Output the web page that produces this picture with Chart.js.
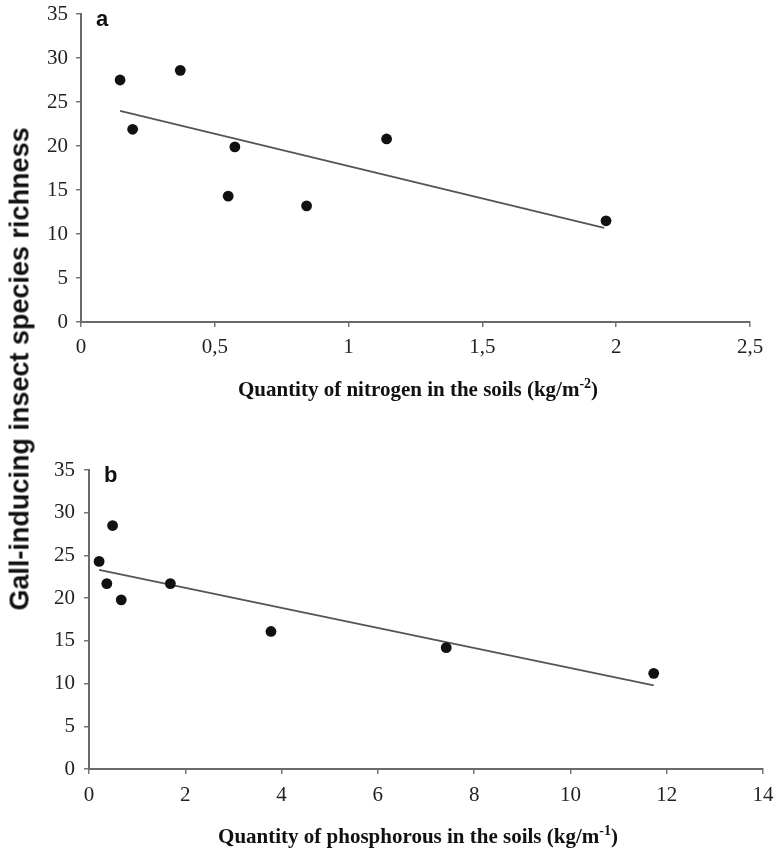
<!DOCTYPE html>
<html>
<head>
<meta charset="utf-8">
<script src="https://cdn.jsdelivr.net/npm/chart.js@4.4.1/dist/chart.umd.min.js"></script>
<style>
  html, body { margin: 0; padding: 0; background: #fff; }
  body { width: 774px; height: 850px; position: relative; overflow: hidden; }
  canvas { position: absolute; left: 0; }
  #ytitle {
    position: absolute; left: 20px; top: 369px;
    transform: translate(-50%, -50%) rotate(-90deg);
    font-family: "Liberation Sans", Arial, sans-serif; font-weight: bold;
    font-size: 27px; white-space: nowrap; color: #111;
  }
</style>
</head>
<body>
<canvas id="cA" width="774" height="410" style="top:0px"></canvas>
<canvas id="cB" width="774" height="435" style="top:415px"></canvas>
<div id="ytitle">Gall-inducing insect species richness</div>
<script>
// ---- Data ----
const nitrogenX = [0.146, 0.193, 0.371, 0.575, 0.55, 0.843, 1.142, 1.962];
const nitrogenY = [27.5, 21.9, 28.6, 19.9, 14.3, 13.2, 20.8, 11.5];
const nitrogenTrendX = [0.146, 1.955];
const nitrogenTrendY = [24.0, 10.7];

const phosphorusX = [0.21, 0.49, 0.37, 0.67, 1.69, 3.78, 7.42, 11.73];
const phosphorusY = [24.3, 28.5, 21.7, 19.8, 21.7, 16.1, 14.2, 11.2];
const phosphorusTrendX = [0.21, 11.73];
const phosphorusTrendY = [23.3, 9.8];

const yTicks = [0, 5, 10, 15, 20, 25, 30, 35];
const nitrogenTicks = [0, 0.5, 1, 1.5, 2, 2.5];
const phosphorusTicks = [0, 2, 4, 6, 8, 10, 12, 14];

const panelLabels = ['a', 'b'];
const xTitleA = { main: 'Quantity of nitrogen in the soils (kg/m', sup: '-2', tail: ')' };
const xTitleB = { main: 'Quantity of phosphorous in the soils (kg/m', sup: '-1', tail: ')' };

Chart.defaults.devicePixelRatio = 1;

function pts(xs, ys) { return xs.map((x, i) => ({ x: x, y: ys[i] })); }

const serif = '"Liberation Serif", "Times New Roman", serif';
const sans = '"Liberation Sans", Arial, sans-serif';

function titlePlugin(label, title, titleCenterY) {
  return {
    id: 'decor',
    afterDraw(chart) {
      const ctx = chart.ctx;
      const ca = chart.chartArea;
      ctx.save();
      // panel letter
      ctx.fillStyle = '#111';
      ctx.font = 'bold 22px ' + sans;
      ctx.textBaseline = 'alphabetic';
      ctx.textAlign = 'left';
      ctx.fillText(label, ca.left + 15, ca.top + 12);
      // x title with superscript
      const mainFont = 'bold 21px ' + serif;
      const supFont = 'bold 14px ' + serif;
      ctx.font = mainFont;
      const w1 = ctx.measureText(title.main).width;
      const w3 = ctx.measureText(title.tail).width;
      ctx.font = supFont;
      const w2 = ctx.measureText(title.sup).width;
      const total = w1 + w2 + w3;
      let x = 418 - total / 2;
      const base = titleCenterY + 6;
      ctx.fillStyle = '#111';
      ctx.font = mainFont;
      ctx.fillText(title.main, x, base);
      x += w1;
      ctx.font = supFont;
      ctx.fillText(title.sup, x, base - 8);
      x += w2;
      ctx.font = mainFont;
      ctx.fillText(title.tail, x, base);
      ctx.restore();
    }
  };
}

function makeChart(canvasId, opts) {
  return new Chart(document.getElementById(canvasId), {
    type: 'scatter',
    data: {
      datasets: [
        {
          data: pts(opts.xs, opts.ys),
          pointRadius: 5.4,
          pointHoverRadius: 5.4,
          backgroundColor: '#111',
          borderWidth: 0,
          order: 1
        },
        {
          type: 'line',
          data: pts(opts.tx, opts.ty),
          showLine: true,
          pointRadius: 0,
          borderColor: '#555',
          borderWidth: 1.8,
          fill: false,
          order: 2
        }
      ]
    },
    options: {
      responsive: false,
      animation: false,
      events: [],
      layout: { padding: { top: opts.padTop, right: opts.padRight, left: 0, bottom: 0 } },
      plugins: { legend: { display: false }, tooltip: { enabled: false }, title: { display: false } },
      scales: {
        x: {
          type: 'linear',
          min: opts.xTicks[0],
          max: opts.xTicks[opts.xTicks.length - 1],
          afterBuildTicks(scale) { scale.ticks = opts.xTicks.map(v => ({ value: v })); },
          afterFit(scale) { scale.height = opts.xHeight; scale.paddingLeft = 0; scale.paddingRight = 0; },
          grid: { drawOnChartArea: false, drawTicks: true, tickLength: 5, color: '#777', lineWidth: 1.5 },
          border: { display: true, color: '#6a6a6a', width: 2 },
          ticks: {
            padding: opts.xPad,
            color: '#222',
            font: { family: serif, size: 21 },
            maxRotation: 0,
            autoSkip: false,
            callback: v => String(v).replace('.', ',')
          }
        },
        y: {
          type: 'linear',
          min: 0,
          max: 35,
          afterBuildTicks(scale) { scale.ticks = yTicks.map(v => ({ value: v })); },
          afterFit(scale) { scale.width = opts.yWidth; scale.paddingTop = 0; scale.paddingBottom = 0; },
          grid: { drawOnChartArea: false, drawTicks: true, tickLength: 5, color: '#777', lineWidth: 1.5 },
          border: { display: true, color: '#6a6a6a', width: 2 },
          ticks: {
            padding: opts.yPad,
            color: '#222',
            font: { family: serif, size: 21 },
            autoSkip: false
          }
        }
      }
    },
    plugins: [titlePlugin(opts.label, opts.title, opts.titleY)]
  });
}

makeChart('cA', {
  xs: nitrogenX, ys: nitrogenY, tx: nitrogenTrendX, ty: nitrogenTrendY,
  xTicks: nitrogenTicks, padTop: 14, padRight: 24, yWidth: 81, xHeight: 88,
  xPad: 8, yPad: 8, label: panelLabels[0], title: xTitleA, titleY: 390
});

makeChart('cB', {
  xs: phosphorusX, ys: phosphorusY, tx: phosphorusTrendX, ty: phosphorusTrendY,
  xTicks: phosphorusTicks, padTop: 55, padRight: 11, yWidth: 89, xHeight: 81,
  xPad: 9, yPad: 9, label: panelLabels[1], title: xTitleB, titleY: 422
});
</script>
</body>
</html>
